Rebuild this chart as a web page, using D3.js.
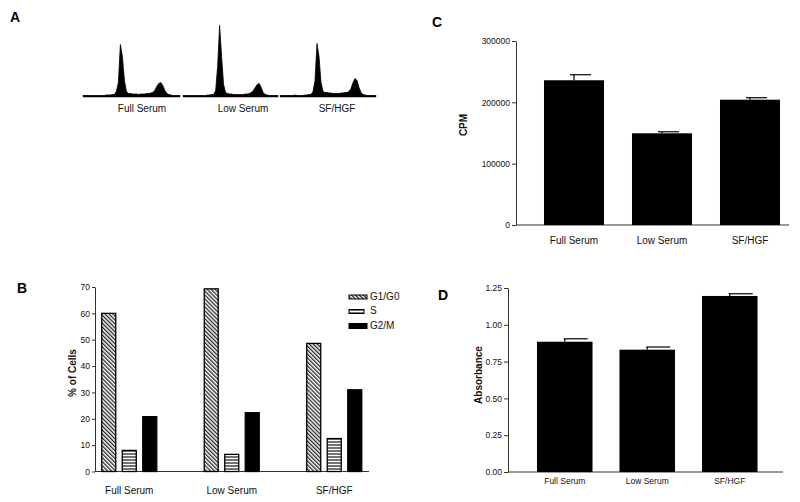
<!DOCTYPE html>
<html><head><meta charset="utf-8">
<script src="https://cdn.jsdelivr.net/npm/d3@7"></script>
<style>
html,body{margin:0;padding:0;background:#fff;}
svg{display:block;font-family:"Liberation Sans",Arial,Helvetica,sans-serif;}
</style></head>
<body><svg id="c" width="800" height="502"></svg>
<script>
// ---------- DATA ----------
const categories = ["Full Serum", "Low Serum", "SF/HGF"];
// Panel A: DNA-content histograms (cell counts per channel bin, 48 bins)
const histFull = [1,1,1,1,1,1,1,1,1,1,1,1.5,1.5,1.5,2,2, 5,14,52,40,16,5, 3,3,2.5,2.5,2.5,2,2.5,2.5,2.5,3,3,3.5,4, 6,10,13,14,11,6,3, 2,1.5,1,1,1,1];
const histLow  = [1,1,1,1,1,1,1,1,1,1,1,1,1.5,1.5,2,2, 6,30,71,40,12,4, 3,2.5,2.5,2,2,2,2,2,2,2.5,2.5,3, 4,6,9,12,13,9,4,2, 1.5,1,1,1,1,1];
const histSF   = [1,1,1,1,1,1,1,1.5,1,1,1,1,1.5,1.5,2,2, 5,16,53,40,14,5, 4,4,3.5,3.5,3,3,3,3,3.5,3.5,4,4, 5,8,14,18,16,9,4,2, 1.5,1,1,1,1,1];
const histograms = [histFull, histLow, histSF];
// Panel B: cell-cycle distribution (% of cells)
const phases = ["G1/G0", "S", "G2/M"];
const g1g0 = [60, 69.3, 48.6];
const sPhase = [8, 6.5, 12.5];
const g2m = [20.8, 22.3, 31];
const bTicks = [0,10,20,30,40,50,60,70];
// Panel C: thymidine incorporation (CPM)
const cpm = [236000, 149500, 204300];
const cpmErr = [9000, 2500, 3200];
const cTicks = [0,100000,200000,300000];
// Panel D: absorbance
const absorbance = [0.885, 0.831, 1.196];
const absErr = [0.02, 0.018, 0.015];
const dTicks = [0,0.25,0.5,0.75,1.0,1.25];

// ---------- DRAW ----------
const svg = d3.select("#c");
svg.append("rect").attr("width",800).attr("height",502).attr("fill","#fff");
const defs = svg.append("defs");
const pHatch = defs.append("pattern").attr("id","hatch").attr("patternUnits","userSpaceOnUse")
  .attr("width",2.8).attr("height",2.8).attr("patternTransform","rotate(-45)");
pHatch.append("rect").attr("width",2.8).attr("height",2.8).attr("fill","#fff");
pHatch.append("line").attr("x1",0.7).attr("y1",0).attr("x2",0.7).attr("y2",2.8).attr("stroke","#000").attr("stroke-width",1.1);
const pHor = defs.append("pattern").attr("id","horiz").attr("patternUnits","userSpaceOnUse")
  .attr("width",4).attr("height",3);
pHor.append("rect").attr("width",4).attr("height",3).attr("fill","#fff");
pHor.append("line").attr("x1",0).attr("y1",1).attr("x2",4).attr("y2",1).attr("stroke","#000").attr("stroke-width",1.1);

const axisColor = "#333";
const txt = "#111";
function panelLetter(t,x,y){
  svg.append("text").attr("x",x).attr("y",y).attr("font-size",14).attr("font-weight","bold")
    .attr("text-anchor","middle").attr("dominant-baseline","middle").attr("fill","#000").text(t);
}
function styleAxis(g, fs){
  g.selectAll("path.domain").attr("stroke",axisColor).attr("stroke-width",1);
  g.selectAll(".tick line").attr("stroke",axisColor);
  g.selectAll(".tick text").attr("font-size",fs).attr("fill",txt).attr("font-family","Liberation Sans, Arial, sans-serif");
}

// ---- Panel A ----
panelLetter("A",15,18);
const histRanges = [[83,180],[183,278],[280,376]];
const histLabelX = [142,243,337];
const yH = d3.scaleLinear().domain([0,72]).range([96.5,24.5]);
histograms.forEach((h,k)=>{
  const xH = d3.scaleLinear().domain([0,h.length]).range(histRanges[k]);
  const pts = [[0,h[0]]].concat(h.map((v,i)=>[i+0.5,v])).concat([[h.length,h[h.length-1]]]);
  const area = d3.area().x(d=>xH(d[0])).y0(yH(0)).y1(d=>yH(d[1])).curve(d3.curveLinear);
  svg.append("path").attr("d",area(pts)).attr("fill","#000").attr("stroke","#000").attr("stroke-width",0.8);
  svg.append("line").attr("x1",histRanges[k][0]).attr("x2",histRanges[k][1])
    .attr("y1",yH(0)).attr("y2",yH(0)).attr("stroke","#000").attr("stroke-width",1.5);
  svg.append("text").attr("x",histLabelX[k]).attr("y",112).attr("text-anchor","middle")
    .attr("font-size",10).attr("fill",txt).text(categories[k]);
});

// ---- Panel B ----
panelLetter("B",22,289);
const yB = d3.scaleLinear().domain([0,70]).range([471.5,287]);
const xB = d3.scaleBand().domain(categories).range([78,385.5]).paddingInner(0.463).paddingOuter(0.2317);
const xBi = d3.scaleBand().domain(phases).range([0,xB.bandwidth()]).paddingInner(0.317).paddingOuter(0);
const gBy = svg.append("g").attr("transform","translate(95,0)").call(d3.axisLeft(yB).tickValues(bTicks).tickSize(3).tickSizeOuter(0).tickPadding(2));
styleAxis(gBy,8.5);
svg.append("line").attr("x1",95).attr("x2",369).attr("y1",yB(0)).attr("y2",yB(0)).attr("stroke",axisColor);
const phaseVals = [g1g0, sPhase, g2m];
const phaseFill = ["url(#hatch)","url(#horiz)","#000"];
categories.forEach((c,ci)=>{
  phases.forEach((p,pi)=>{
    svg.append("rect").attr("x",xB(c)+xBi(p)).attr("y",yB(phaseVals[pi][ci]))
      .attr("width",xBi.bandwidth()).attr("height",yB(0)-yB(phaseVals[pi][ci]))
      .attr("fill",phaseFill[pi]).attr("stroke","#000").attr("stroke-width",1.3);
  });
  svg.append("text").attr("x",xB(c)+xB.bandwidth()/2).attr("y",494).attr("text-anchor","middle")
    .attr("font-size",10).attr("fill",txt).text(c);
});
svg.append("text").attr("transform","translate(76,373) rotate(-90)").attr("text-anchor","middle")
  .attr("font-size",10).attr("font-weight","bold").attr("fill",txt).text("% of Cells");
// legend
const legY = [297,311.5,326];
const legW = [18,15,18];
phases.forEach((p,i)=>{
  const h = i===2?5:4;
  svg.append("rect").attr("x",349).attr("y",legY[i]-h/2).attr("width",legW[i]).attr("height",h)
    .attr("fill",phaseFill[i]).attr("stroke","#000").attr("stroke-width",1);
  svg.append("text").attr("x",370).attr("y",legY[i]).attr("dominant-baseline","middle")
    .attr("font-size",10).attr("fill",txt).text(p);
});

// ---- Panel C ----
panelLetter("C",437,23);
const yC = d3.scaleLinear().domain([0,300000]).range([225,41]);
const xC = d3.scaleBand().domain(categories).range([530,794]).paddingInner(0.318).paddingOuter(0.159);
const gCy = svg.append("g").attr("transform","translate(516,0)").call(d3.axisLeft(yC).tickValues(cTicks).tickFormat(d3.format("d")).tickSize(4).tickSizeOuter(0).tickPadding(2));
styleAxis(gCy,8.5);
svg.append("line").attr("x1",516).attr("x2",789).attr("y1",yC(0)).attr("y2",yC(0)).attr("stroke",axisColor);
categories.forEach((c,i)=>{
  const cx = xC(c)+xC.bandwidth()/2;
  svg.append("line").attr("x1",cx).attr("x2",cx).attr("y1",yC(cpm[i])).attr("y2",yC(cpm[i]+cpmErr[i])).attr("stroke","#000").attr("stroke-width",1.2);
  svg.append("line").attr("x1",cx-4).attr("x2",cx+17).attr("y1",yC(cpm[i]+cpmErr[i])).attr("y2",yC(cpm[i]+cpmErr[i])).attr("stroke","#000").attr("stroke-width",1.2);
  svg.append("rect").attr("x",xC(c)).attr("y",yC(cpm[i])).attr("width",xC.bandwidth()).attr("height",yC(0)-yC(cpm[i])).attr("fill","#000");
  svg.append("text").attr("x",cx).attr("y",244).attr("text-anchor","middle").attr("font-size",10).attr("fill",txt).text(c);
});
svg.append("text").attr("transform","translate(467,125) rotate(-90)").attr("text-anchor","middle")
  .attr("font-size",10).attr("font-weight","bold").attr("fill",txt).text("CPM");

// ---- Panel D ----
panelLetter("D",443,296);
const yD = d3.scaleLinear().domain([0,1.25]).range([472,288]);
const xD = d3.scaleBand().domain(categories).range([523.5,771]).paddingInner(0.327).paddingOuter(0.1635);
const gDy = svg.append("g").attr("transform","translate(508,0)").call(d3.axisLeft(yD).tickValues(dTicks).tickFormat(d3.format(".2f")).tickSize(4).tickSizeOuter(0).tickPadding(2));
styleAxis(gDy,8.5);
svg.append("line").attr("x1",508).attr("x2",783).attr("y1",yD(0)).attr("y2",yD(0)).attr("stroke",axisColor);
categories.forEach((c,i)=>{
  const cx = xD(c)+xD.bandwidth()/2;
  svg.append("line").attr("x1",cx).attr("x2",cx).attr("y1",yD(absorbance[i])).attr("y2",yD(absorbance[i]+absErr[i])).attr("stroke","#000").attr("stroke-width",1.2);
  svg.append("line").attr("x1",cx-1).attr("x2",cx+23).attr("y1",yD(absorbance[i]+absErr[i])).attr("y2",yD(absorbance[i]+absErr[i])).attr("stroke","#000").attr("stroke-width",1.2);
  svg.append("rect").attr("x",xD(c)).attr("y",yD(absorbance[i])).attr("width",xD.bandwidth()).attr("height",yD(0)-yD(absorbance[i])).attr("fill","#000");
  svg.append("text").attr("x",cx).attr("y",484).attr("text-anchor","middle").attr("font-size",8.5).attr("fill",txt).text(c);
});
svg.append("text").attr("transform","translate(482,375) rotate(-90)").attr("text-anchor","middle")
  .attr("font-size",10).attr("font-weight","bold").attr("fill",txt).text("Absorbance");
</script></body></html>
